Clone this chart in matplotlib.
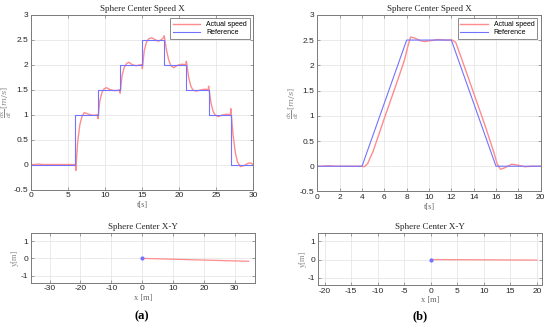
import matplotlib.pyplot as plt

# --- data ---
# (a) step reference
ref_a_t = [0, 6, 6, 9, 9, 12, 12, 15, 15, 18, 18, 21, 21, 24, 24, 27, 27, 30]
ref_a_v = [0, 0, 1, 1, 1.5, 1.5, 2, 2, 2.5, 2.5, 2, 2, 1.5, 1.5, 1, 1, 0, 0]
act_a_t = [0, 0.5, 1.0, 1.5, 2.5, 6.0, 6.05, 6.3, 6.6, 6.9, 7.2, 7.6, 8.2, 8.7, 9.0, 9.05, 9.3, 9.6,
           9.9, 10.2, 10.7, 11.3, 11.8, 12.0, 12.05, 12.3, 12.6, 12.9, 13.2, 13.7, 14.2, 14.8, 15.0,
           15.05, 15.3, 15.6, 15.9, 16.3, 16.8, 17.2, 17.6, 17.95, 18.0, 18.3, 18.6, 18.9, 19.3,
           19.8, 20.4, 20.9, 21.0, 21.3, 21.6, 21.9, 22.3, 22.8, 23.5, 23.95, 24.0, 24.3, 24.6,
           24.9, 25.3, 25.8, 26.5, 26.95, 27.0, 27.3, 27.6, 27.9, 28.3, 28.8, 29.4, 29.7, 30]
act_a_v = [0, 0.0, 0.01, 0.0, 0, 0, -0.12, 0.45, 0.8, 0.97, 1.04, 1.02, 0.99, 0.99, 1.0, 0.92, 1.28, 1.45,
           1.52, 1.54, 1.5, 1.48, 1.49, 1.5, 1.43, 1.78, 1.95, 2.02, 2.05, 2.0, 1.98, 2.0, 2.0,
           1.92, 2.28, 2.45, 2.52, 2.54, 2.5, 2.47, 2.5, 2.55, 2.58, 2.3, 2.1, 1.98, 1.94,
           1.99, 2.01, 2.0, 2.07, 1.75, 1.57, 1.49, 1.47, 1.49, 1.51, 1.5, 1.57, 1.25, 1.07,
           0.99, 0.96, 0.99, 1.01, 1.0, 1.12, 0.6, 0.25, 0.05, -0.04, -0.02, 0.03, 0.03, 0.0]

# (b) ramp reference
ref_b_t = [0, 4, 8, 12, 16, 20]
ref_b_v = [0, 0, 2.5, 2.5, 0, 0]
act_b_t = [0, 0.5, 1.0, 1.6, 2.5, 4.0, 4.2, 4.5, 5.0, 6.0, 7.0, 7.8, 8.1, 8.35, 8.7, 9.2, 9.6,
           10.2, 10.8, 11.5, 12.1, 12.4, 13, 14, 15, 15.8, 16.1, 16.4, 16.8, 17.4, 18.0, 18.6, 19.2, 20]
act_b_v = [0, 0.0, 0.01, 0.0, 0, 0, -0.01, 0.05, 0.3, 0.95, 1.58, 2.1, 2.37, 2.56, 2.54, 2.49, 2.47,
           2.49, 2.51, 2.5, 2.5, 2.45, 2.08, 1.45, 0.82, 0.28, 0.05, -0.06, -0.03, 0.04, 0.02, -0.01, 0.0, 0]

# sphere center XY
xy_a_x = [0, 34.5]
xy_a_y = [0, -0.17]
xy_b_x = [0, 20]
xy_b_y = [0, -0.03]

red = (1.0, 0.55, 0.55)
blue = (0.45, 0.45, 1.0)
txt = '#262626'
serif = ['Liberation Serif', 'DejaVu Serif']

plt.rcParams['font.family'] = ['Liberation Sans', 'DejaVu Sans']
plt.rcParams['mathtext.fontset'] = 'dejavuserif'
plt.rcParams['axes.unicode_minus'] = False

fig = plt.figure(figsize=(5.5, 3.29), dpi=100)


def style(ax):
    ax.grid(True, color='#e6e6e6', lw=0.6)
    ax.set_axisbelow(True)
    for s in ax.spines.values():
        s.set_color('#7a7a7a')
        s.set_linewidth(0.7)
    ax.tick_params(direction='in', length=2, width=0.5, colors='#7a7a7a',
                   labelcolor=txt, labelsize=6, pad=2, top=True, right=True)


def speed(rect, ref_t, ref_v, act_t, act_v, xmax, xstep):
    ax = fig.add_axes(rect)
    ax.plot(act_t, act_v, color=red, lw=1.0, label='Actual speed')
    ax.plot(ref_t, ref_v, color=blue, lw=0.8, label='Reference')
    ax.set_xlim(0, xmax)
    ax.set_ylim(-0.5, 3)
    ax.set_xticks(range(0, xmax + 1, xstep))
    ax.set_yticks([-0.5, 0, 0.5, 1, 1.5, 2, 2.5, 3])
    ax.set_yticklabels(['-0.5', '0', '0.5', '1', '1.5', '2', '2.5', '3'])
    style(ax)
    ax.set_title('Sphere Center Speed X', family=serif, fontsize=6.5, pad=3, color=txt)
    ax.set_xlabel('t[s]', family=serif, fontsize=6, color='#666666', labelpad=1)
    ax.set_ylabel(r'$\frac{dx}{dt}\,[m/s]$', fontsize=6, color='#888888')
    ax.yaxis.set_label_coords(-0.075, 0.5)
    leg = ax.legend(loc='upper right', fontsize=5, frameon=True, fancybox=False,
                    handlelength=4, borderpad=0.4, labelspacing=0.2)
    leg.get_frame().set_edgecolor('#555555')
    leg.get_frame().set_linewidth(0.6)
    return ax


def xy(rect, x, y, xlim, xticks):
    ax = fig.add_axes(rect)
    ax.plot(x, y, color=red, lw=0.9)
    ax.plot([0], [0], 'o', color=blue, ms=2)
    ax.set_xlim(*xlim)
    ax.set_ylim(-1.4, 1.45)
    ax.set_xticks(xticks)
    ax.set_yticks([-1, 0, 1])
    style(ax)
    ax.set_title('Sphere Center X-Y', family=serif, fontsize=6.5, pad=3, color=txt)
    ax.set_xlabel('x [m]', family=serif, fontsize=6, color='#666666', labelpad=1)
    ax.set_ylabel('y[m]', family=serif, fontsize=6, color='#888888', labelpad=1)
    return ax


speed([0.0564, 0.424, 0.4036, 0.531], ref_a_t, ref_a_v, act_a_t, act_a_v, 30, 5)
speed([0.577, 0.418, 0.406, 0.537], ref_b_t, ref_b_v, act_b_t, act_b_v, 20, 2)
xy([0.0564, 0.141, 0.407, 0.150], xy_a_x, xy_a_y, (-36, 36.5), range(-30, 31, 10))
xy([0.5787, 0.134, 0.4063, 0.157], xy_b_x, xy_b_y, (-21.2, 20.9), range(-20, 21, 5))

fig.text(0.258, 0.04, '(a)', family=serif, fontsize=9, weight='bold', ha='center', va='center')
fig.text(0.764, 0.04, '(b)', family=serif, fontsize=9, weight='bold', ha='center', va='center')

fig.savefig('out.png', dpi=100)
